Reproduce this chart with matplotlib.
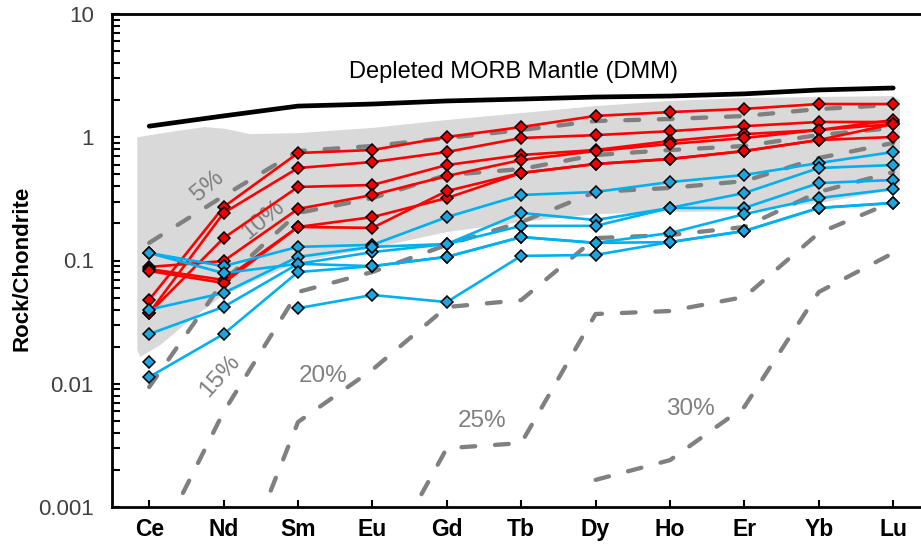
import numpy as np
import matplotlib.pyplot as plt

plt.rcParams['font.family'] = ['Liberation Sans', 'DejaVu Sans']

# REE normalised to chondrite
elements = ['Ce', 'Nd', 'Sm', 'Eu', 'Gd', 'Tb', 'Dy', 'Ho', 'Er', 'Yb', 'Lu']

dmm = [1.23, 1.49, 1.79, 1.86, 1.97, 2.04, 2.12, 2.16, 2.25, 2.42, 2.51]

# fractional melting residues of DMM
nan = np.nan
melt_labels = ['5%', '10%', '15%', '20%', '25%', '30%']
melt_05 = [0.139, 0.334, 0.773, 0.849, 0.986, 1.145, 1.355, 1.406, 1.487, 1.695, 1.83]
melt_10 = [0.0094, 0.0682, 0.243, 0.321, 0.494, 0.552, 0.718, 0.788, 0.849, 1.043, 1.19]
melt_15 = [0.00037, 0.0059, 0.0555, 0.0807, 0.134, 0.205, 0.360, 0.388, 0.441, 0.679, 0.898]
melt_20 = [nan, 0.000148, 0.00489, 0.0130, 0.0419, 0.0477, 0.152, 0.161, 0.187, 0.360, 0.522]
melt_25 = [nan, nan, nan, 0.00024, 0.0030, 0.0033, 0.0368, 0.0389, 0.0506, 0.167, 0.30]
melt_30 = [nan, nan, nan, nan, nan, nan, 0.00166, 0.0024, 0.0065, 0.0555, 0.115]

# grey field (abyssal peridotites)
field_x_top = [-0.16, 0.35, 0.75, 1.02, 1.36, 2, 3, 4, 5, 6, 7, 8, 9, 10, 10.09]
field_top = [1.00, 1.12, 1.21, 1.17, 1.06, 1.08, 1.19, 1.38, 1.57, 1.79, 1.97, 2.08, 2.12, 2.16, 2.00]
field_x_bottom = [10.09, 10, 9, 8, 7, 6, 5, 4, 3, 2, 1, 0.55, 0.15, -0.12, -0.16]
field_bottom = [0.41, 0.373, 0.292, 0.252, 0.247, 0.238, 0.205, 0.170, 0.126, 0.097,
                0.0525, 0.0329, 0.0206, 0.0165, 0.0188]

red_samples = [
    [0.048, 0.272, 0.745, 0.788, 1.005, 1.21, 1.49, 1.60, 1.70, 1.86, 1.86],
    [0.0375, 0.243, 0.563, 0.630, 0.759, 0.986, 1.04, 1.12, 1.23, 1.33, 1.33],
    [0.0375, 0.152, 0.395, 0.410, 0.595, 0.718, 0.788, 0.932, 1.06, 1.145, 1.38],
    [0.0886, 0.099, 0.262, 0.340, 0.485, 0.654, 0.773, 0.882, 0.986, 1.145, 1.28],
    [0.0853, 0.0695, 0.187, 0.225, 0.321, 0.513, 0.607, 0.666, 0.773, 0.950, 1.005],
    [0.0822, 0.0657, 0.187, 0.184, 0.366, 0.513, 0.607, 0.666, 0.773, 0.950, 1.28],
]

blue_samples = [
    [0.115, 0.090, 0.129, 0.134, 0.225, 0.340, 0.360, 0.433, 0.494, 0.618, 0.759],
    [0.115, 0.079, 0.094, 0.117, 0.136, 0.243, 0.213, 0.267, 0.353, 0.563, 0.595],
    [0.040, 0.0545, 0.107, 0.129, 0.136, 0.191, 0.191, 0.267, 0.267, 0.425, 0.450],
    [0.0253, 0.042, 0.094, 0.090, 0.107, 0.155, 0.139, 0.167, 0.238, 0.321, 0.380],
    [0.01135, 0.0253, 0.0806, 0.090, 0.107, 0.155, 0.139, 0.141, 0.1735, 0.267, 0.293],
    [0.015, nan, 0.041, 0.0525, 0.046, 0.109, 0.111, 0.141, 0.1735, 0.267, 0.293],
]

x = np.arange(len(elements))

fig = plt.figure(figsize=(9.21, 5.52), dpi=100)
ax = fig.add_axes([112 / 921, 45 / 552, 818.4 / 921, 493 / 552])

ax.fill(np.r_[field_x_top, field_x_bottom], np.r_[field_top, field_bottom],
        color='#d9d9d9', lw=0, zorder=1)

for curve in [melt_05, melt_10, melt_15, melt_20, melt_25, melt_30]:
    ax.plot(x, curve, color='#808080', lw=3.1, dashes=(3.2, 4.6),
            dash_capstyle='round', zorder=2)

for r in red_samples:
    ax.plot(x, r, color='#ff0000', lw=1.9, marker='D', ms=6.4, mfc='#f20000',
            mec='black', mew=1.1, zorder=4)

for b in blue_samples:
    ax.plot(x, b, color='#00b0f0', lw=1.9, marker='D', ms=6.4, mfc='#1ea5de',
            mec='black', mew=1.1, zorder=4)

ax.plot(x, dmm, color='black', lw=3.4, solid_capstyle='round', zorder=5)

ax.text(4.9, 3.38, 'Depleted MORB Mantle (DMM)', ha='center', va='center', fontsize=17)

# melt % labels
lab_pos = [(0.78, 0.40, 40), (1.53, 0.215, 40), (0.95, 0.0115, 48),
           (2.34, 0.0115, 0), (4.48, 0.0050, 0), (7.27, 0.0062, 0)]
for lab, (lx, ly, rot) in zip(melt_labels, lab_pos):
    ax.text(lx, ly, lab, color='#808080', fontsize=17.5, rotation=rot,
            ha='center', va='center', rotation_mode='anchor', zorder=3)

ax.set_yscale('log')
ax.set_ylim(0.001, 10)
ax.set_xlim(-0.5, 10.5)
ax.set_yticks([0.001, 0.01, 0.1, 1, 10])
ax.set_yticklabels(['0.001', '0.01', '0.1', '1', '10'])
ax.set_xticks(x)
ax.set_xticklabels(elements, fontweight='bold')

ax.tick_params(axis='y', which='both', direction='in', length=6, width=1.5,
               labelsize=16, labelcolor='#404040', pad=13)
ax.tick_params(axis='x', direction='in', length=5, width=1.5, labelsize=16.5, pad=8)

for s in ['left', 'bottom', 'top']:
    ax.spines[s].set_linewidth(2)
ax.spines['right'].set_visible(False)

fig.text(22 / 921, 1 - 268 / 552, 'Rock/Chondrite', rotation=90, ha='center',
         va='center', fontsize=16, fontweight='bold')

fig.savefig('out.png', dpi=100)
